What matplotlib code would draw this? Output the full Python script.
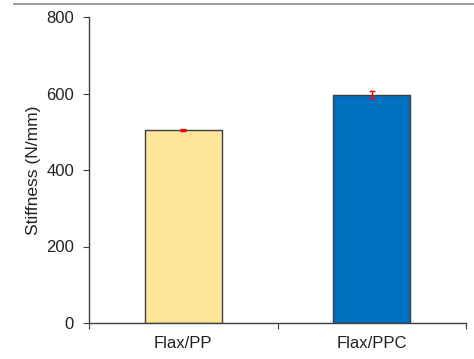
import matplotlib
matplotlib.use("Agg")
import matplotlib.pyplot as plt
from matplotlib.lines import Line2D

categories = ["Flax/PP", "Flax/PPC"]
values = [505, 597]
errors = [2, 10]
colors = ["#FFE599", "#0070C0"]

plt.rcParams['font.family'] = ['Liberation Sans', 'DejaVu Sans']
fig = plt.figure(figsize=(4.74, 3.59), dpi=100)
ax = fig.add_axes([89/474, 1-323/359, (466-89)/474, (323-17)/359])

x = [0.5, 1.5]
ax.bar(x, values, width=0.41, color=colors, edgecolor="#404040", linewidth=1.0, zorder=2)
ax.errorbar(x, values, yerr=errors, fmt='none', ecolor="#FF0000", elinewidth=1, capsize=2, capthick=1, zorder=3)

ax.set_xlim(0, 2)
ax.set_ylim(0, 800)
ax.set_yticks([0, 200, 400, 600, 800])
ax.set_xticks([0, 1, 2])
ax.set_xticklabels([])
ax.set_xticks(x, minor=True)
ax.set_xticklabels(categories, minor=True)
ax.tick_params(axis='x', which='minor', length=0, pad=9, labelsize=12, colors='#222222')
ax.tick_params(axis='x', which='major', length=4, direction='out', color='#404040')
ax.tick_params(axis='y', length=4.3, direction='out', color='#404040', labelsize=12, labelcolor='#222222', pad=6.5)
ax.set_ylabel("Stiffness (N/mm)", fontsize=12.5, color='#222222', labelpad=4)

for s in ['top', 'right']:
    ax.spines[s].set_visible(False)
for s in ['left', 'bottom']:
    ax.spines[s].set_color('#404040')
    ax.spines[s].set_linewidth(1.0)

fig.add_artist(Line2D([14/474, 1], [1-4/359, 1-4/359], color='#8c8c8c', linewidth=1.2, transform=fig.transFigure))

fig.savefig("out.png", dpi=100)
